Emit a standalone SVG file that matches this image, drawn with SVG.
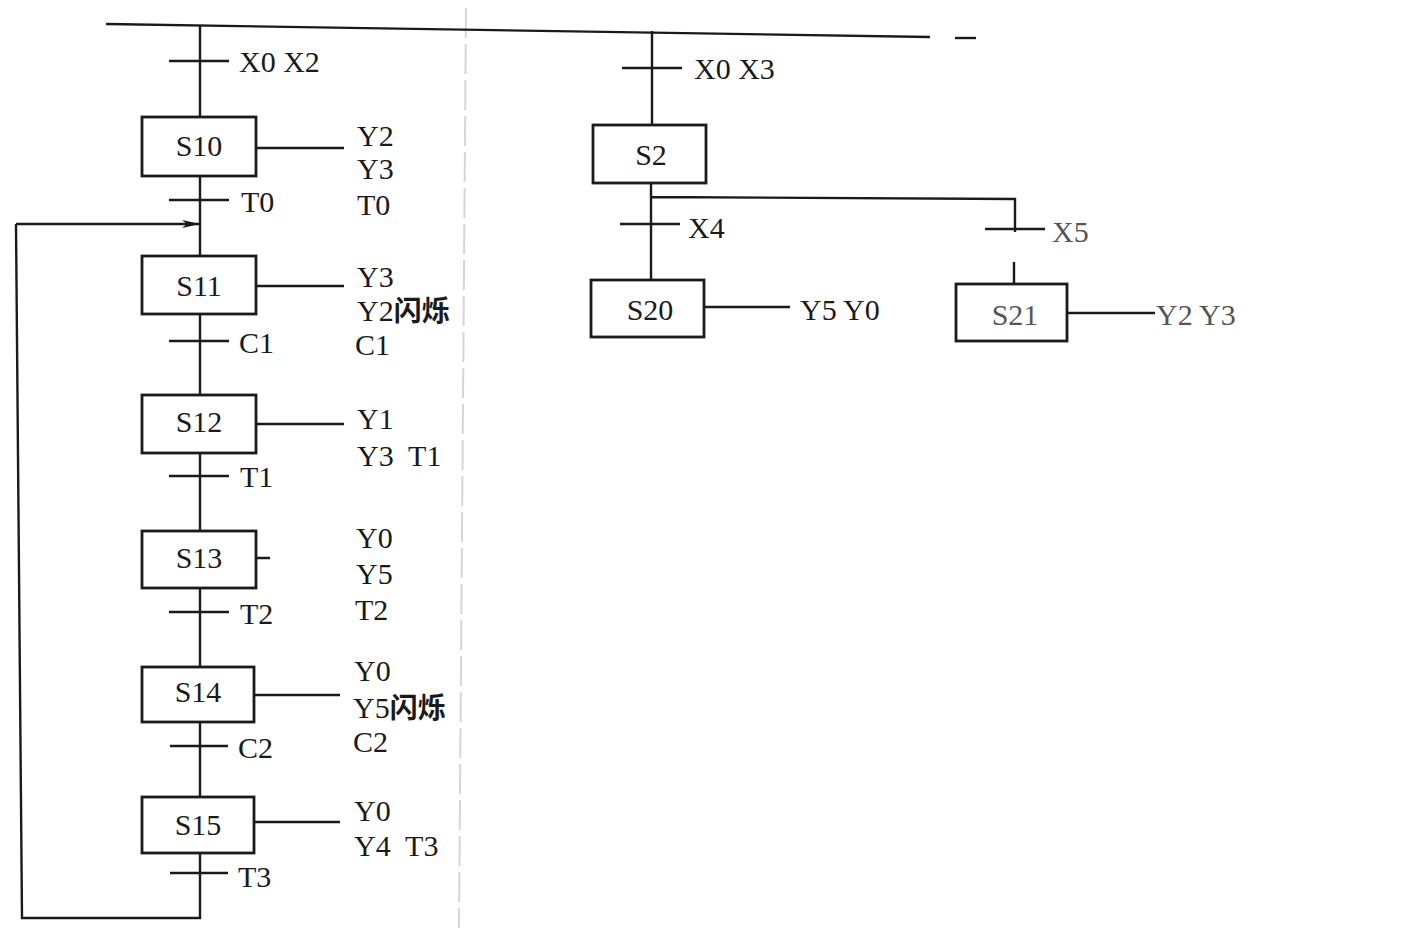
<svg xmlns="http://www.w3.org/2000/svg" width="1420" height="934" viewBox="0 0 1420 934">
<style>
.ln{stroke:#1a1a1a;stroke-width:2.4;fill:none}
.bx{stroke:#1a1a1a;stroke-width:2.8;fill:#fff}
.t{font-family:"Liberation Serif","Times New Roman",serif;font-size:30px;fill:#1a1a1a}
.c{text-anchor:middle}
.cn{font-family:"Noto Sans CJK SC",sans-serif;font-weight:bold;font-size:28px}
.g{fill:#555}
</style>
<defs>
<marker id="arr" markerWidth="18" markerHeight="10" refX="17" refY="5" orient="auto" markerUnits="userSpaceOnUse">
<path d="M0,1 L18,5 L0,9 L5,5 Z" fill="#1a1a1a"/>
</marker>
</defs>
<rect width="1420" height="934" fill="#fff"/>
<line x1="466" y1="8" x2="459" y2="928" stroke="#d6d6d6" stroke-width="2" stroke-dasharray="30,6"/>
<g id="connectors">
<path class="ln" d="M106,24 L930,37" stroke-width="3"/>
<path class="ln" d="M955,38 L976,38" stroke-width="3"/>
<path class="ln" d="M200,26 L200,117 M200,176 L200,256 M200,314 L200,395 M200,453 L200,531 M200,588 L200,667 M200,722 L200,797 M200,853 L200,918 L22,918 L16,224"/>
<path class="ln" d="M16,224 L199,224" marker-end="url(#arr)"/>
<path class="ln" d="M169,61 L229,61 M169,200 L229,200 M169,341 L229,341 M169,476 L229,476 M169,612 L229,612 M170,746 L228,746 M170,873 L228,873"/>
<path class="ln" d="M256,148 L344,148 M256,286 L344,286 M256,424 L344,424 M256,558 L270,558 M254,695 L340,695 M254,822 L340,822"/>
<path class="ln" d="M652,31 L652,125 M651,183 L651,280 M651,197 L1015,199 L1015,232 M1014,262 L1014,284"/>
<path class="ln" d="M622,68 L682,68 M620,224 L680,224 M985,229 L1045,229"/>
<path class="ln" d="M704,307 L790,307 M1067,313 L1155,313"/>
</g>
<g id="S10"><rect class="bx" x="142" y="117" width="114" height="59"/><text class="t c" x="199" y="156">S10</text></g>
<g id="S11"><rect class="bx" x="142" y="256" width="114" height="58"/><text class="t c" x="199" y="296">S11</text></g>
<g id="S12"><rect class="bx" x="142" y="395" width="114" height="58"/><text class="t c" x="199" y="432">S12</text></g>
<g id="S13"><rect class="bx" x="142" y="531" width="114" height="57"/><text class="t c" x="199" y="568">S13</text></g>
<g id="S14"><rect class="bx" x="142" y="667" width="112" height="55"/><text class="t c" x="198" y="702">S14</text></g>
<g id="S15"><rect class="bx" x="142" y="797" width="112" height="56"/><text class="t c" x="198" y="835">S15</text></g>
<g id="S2"><rect class="bx" x="593" y="125" width="113" height="58"/><text class="t c" x="651" y="165">S2</text></g>
<g id="S20"><rect class="bx" x="591" y="280" width="113" height="57"/><text class="t c" x="650" y="320">S20</text></g>
<g id="S21"><rect class="bx" x="956" y="284" width="111" height="57"/><text class="t c g" x="1015" y="325">S21</text></g>
<g id="labels">
<text class="t" x="239" y="72">X0 X2</text>
<text class="t" x="241" y="212">T0</text>
<text class="t" x="239" y="353">C1</text>
<text class="t" x="240" y="487">T1</text>
<text class="t" x="240" y="624">T2</text>
<text class="t" x="238" y="758">C2</text>
<text class="t" x="238" y="887">T3</text>
<text class="t" x="357" y="146">Y2</text>
<text class="t" x="357" y="179">Y3</text>
<text class="t" x="357" y="215">T0</text>
<text class="t" x="357" y="287">Y3</text>
<text class="t" x="357" y="321">Y2<tspan class="cn">闪烁</tspan></text>
<text class="t" x="355" y="355">C1</text>
<text class="t" x="357" y="429">Y1</text>
<text class="t" x="357" y="466" xml:space="preserve">Y3  T1</text>
<text class="t" x="356" y="548">Y0</text>
<text class="t" x="356" y="584">Y5</text>
<text class="t" x="355" y="620">T2</text>
<text class="t" x="354" y="681">Y0</text>
<text class="t" x="353" y="718">Y5<tspan class="cn">闪烁</tspan></text>
<text class="t" x="353" y="752">C2</text>
<text class="t" x="354" y="821">Y0</text>
<text class="t" x="354" y="856" xml:space="preserve">Y4  T3</text>
<text class="t" x="694" y="79">X0 X3</text>
<text class="t" x="688" y="238">X4</text>
<text class="t g" x="1052" y="242">X5</text>
<text class="t" x="800" y="320">Y5 Y0</text>
<text class="t g" x="1156" y="325">Y2 Y3</text>
</g>
</svg>
